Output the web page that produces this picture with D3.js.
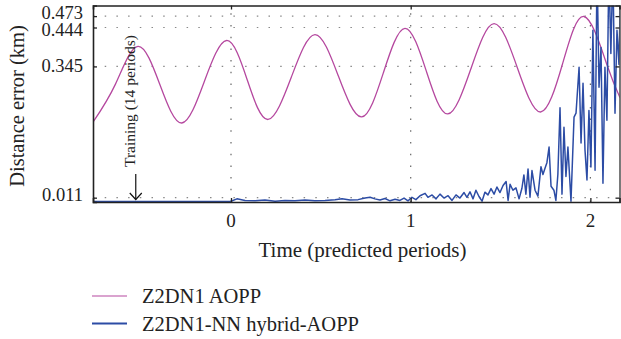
<!DOCTYPE html>
<html>
<head>
<meta charset="utf-8">
<script src="https://cdn.jsdelivr.net/npm/d3@7"></script>
<style>
  body { margin: 0; background: #fff; }
  text { font-family: "Liberation Serif", "DejaVu Serif", serif; fill: #222; }
</style>
</head>
<body>
<svg id="chart" width="621" height="339" viewBox="0 0 621 339"></svg>
<script>
// y ticks (km) and x ticks (predicted periods)
const yTicks = [0.011, 0.345, 0.444, 0.473]
const xTicks = [0, 1, 2]

// Z2DN1 AOPP: [time, error] (troughs, midpoints, peaks)
const aoppSeries = [
  [-0.768, 0.203], [-0.643, 0.300], [-0.518, 0.396], [-0.396, 0.299],
  [-0.274, 0.201], [-0.149, 0.306], [-0.024, 0.411], [0.091, 0.310],
  [0.206, 0.210], [0.336, 0.318], [0.467, 0.426], [0.597, 0.321],
  [0.727, 0.2165], [0.848, 0.329], [0.968, 0.442], [1.087, 0.333],
  [1.206, 0.224], [1.335, 0.339], [1.464, 0.454], [1.594, 0.341],
  [1.723, 0.229], [1.844, 0.350], [1.964, 0.472], [2.090, 0.352],
  [2.165, 0.265]
]

// Z2DN1-NN hybrid-AOPP: [time, error]
const hybridSeries = [
  [-0.768, 0.001], [-0.451, 0.001], [-0.173, 0.001], [0, 0.002],
  [0.033, 0.008], [0.078, 0.004], [0.134, 0.003], [0.189, 0.005],
  [0.245, 0.002], [0.300, 0.004], [0.356, 0.003], [0.412, 0.005],
  [0.467, 0.003], [0.523, 0.004], [0.579, 0.006], [0.618, 0.008],
  [0.662, 0.005], [0.707, 0.006], [0.746, 0.010], [0.774, 0.012],
  [0.801, 0.008], [0.829, 0.005], [0.857, 0.009], [0.885, 0.003],
  [0.913, 0.007], [0.940, 0.004], [0.963, 0.010], [0.985, 0.003],
  [1.007, 0.012], [1.029, 0.006], [1.052, 0.016], [1.080, 0.022],
  [1.096, 0.012], [1.119, 0.018], [1.141, 0.008], [1.163, 0.020],
  [1.185, 0.010], [1.208, 0.016], [1.230, 0.004], [1.252, 0.018],
  [1.274, 0.010], [1.297, 0.024], [1.313, 0.012], [1.330, 0.026],
  [1.347, 0.008], [1.363, 0.030], [1.380, 0.014], [1.397, 0.002],
  [1.413, 0.025], [1.430, 0.018], [1.447, 0.034], [1.464, 0.020],
  [1.480, 0.038], [1.497, 0.024], [1.514, 0.042], [1.531, 0.052],
  [1.542, 0.004], [1.553, 0.045], [1.569, 0.030], [1.586, 0.036],
  [1.603, 0.008], [1.619, 0.035], [1.630, 0.069], [1.641, 0.020],
  [1.653, 0.084], [1.664, 0.012], [1.675, 0.080], [1.692, 0.030],
  [1.708, 0.015], [1.725, 0.090], [1.736, 0.070], [1.747, 0.085],
  [1.758, 0.100], [1.770, 0.140], [1.781, 0.040], [1.797, 0.030],
  [1.808, 0.004], [1.819, 0.070], [1.831, 0.240], [1.842, 0.020],
  [1.853, 0.190], [1.864, 0.065], [1.875, 0.140], [1.892, 0.002],
  [1.909, 0.216], [1.920, 0.226], [1.937, 0.343], [1.948, 0.150],
  [1.959, 0.302], [1.970, 0.132], [1.981, 0.056], [1.992, 0.233],
  [2.003, 0.089], [2.014, 0.437], [2.026, 0.081], [2.037, 0.600],
  [2.048, 0.292], [2.059, 0.393], [2.070, 0.048], [2.081, 0.343],
  [2.092, 0.208], [2.103, 0.600], [2.114, 0.378], [2.125, 0.600],
  [2.137, 0.226], [2.148, 0.437], [2.159, 0.350], [2.170, 0.600]
]

const seriesNames = ["Z2DN1 AOPP", "Z2DN1-NN hybrid-AOPP"]
const seriesColors = ["#b5489f", "#2c4ca5"]

const trainingNote = "Training (14 periods)"
const trainingAt = -0.53

const svg = d3.select("#chart")
const pLeft = 93, pRight = 619.5, pTop = 5.5, pBottom = 202

const x = d3.scaleLinear().domain([-0.768, 2.162]).range([pLeft, pRight])
const y = d3.scaleLinear().domain([0, 0.5]).range([pBottom, pTop])

svg.append("defs").append("clipPath").attr("id", "plotclip")
  .append("rect")
  .attr("x", pLeft).attr("y", pTop)
  .attr("width", pRight - pLeft).attr("height", pBottom - pTop)

// dotted grid
const grid = svg.append("g")
grid.selectAll(".hg").data(yTicks).enter().append("line")
  .attr("x1", pLeft).attr("x2", pRight)
  .attr("y1", d => y(d)).attr("y2", d => y(d))
  .attr("stroke", "#888").attr("stroke-width", 1.2)
  .attr("stroke-dasharray", "1.5,10.2")
grid.selectAll(".vg").data(xTicks).enter().append("line")
  .attr("x1", d => x(d)).attr("x2", d => x(d))
  .attr("y1", pBottom).attr("y2", pTop)
  .attr("stroke", "#666").attr("stroke-width", 1.2)
  .attr("stroke-dasharray", "1.5,10.2")

// lines
const plot = svg.append("g").attr("clip-path", "url(#plotclip)")

plot.append("path").datum(aoppSeries)
  .attr("fill", "none").attr("stroke", seriesColors[0]).attr("stroke-width", 1.3)
  .attr("d", d3.line().x(d => x(d[0])).y(d => y(d[1])).curve(d3.curveNatural))

plot.append("path").datum(hybridSeries)
  .attr("fill", "none").attr("stroke", seriesColors[1]).attr("stroke-width", 1.5)
  .attr("stroke-linejoin", "round")
  .attr("d", d3.line().x(d => x(d[0])).y(d => y(d[1])))

// axes with inward ticks
const fmt = d3.format(".3f")
const axLeft = svg.append("g").attr("transform", `translate(${pLeft},0)`)
  .call(d3.axisLeft(y).tickValues(yTicks).tickSize(-4).tickFormat(""))
const axRight = svg.append("g").attr("transform", `translate(${pRight},0)`)
  .call(d3.axisRight(y).tickValues(yTicks).tickSize(-4).tickFormat(""))
const axBottom = svg.append("g").attr("transform", `translate(0,${pBottom})`)
  .call(d3.axisBottom(x).tickValues(xTicks).tickSize(-4).tickFormat(""))
const axTop = svg.append("g").attr("transform", `translate(0,${pTop})`)
  .call(d3.axisTop(x).tickValues(xTicks).tickSize(-4).tickFormat(""))

for (const a of [axLeft, axRight, axBottom, axTop]) {
  a.select(".domain").attr("stroke", "#222").attr("stroke-width", 1.6)
  a.selectAll(".tick line").attr("stroke", "#222").attr("stroke-width", 1.3)
}
axRight.select(".domain").attr("stroke-width", 1.2)

// tick labels (nudged apart where they crowd, as in the original)
const labelShift = { 0.473: -3.5, 0.444: 2.5, 0.345: 0, 0.011: -3 }
svg.append("g").selectAll("text").data(yTicks).enter().append("text")
  .attr("x", 83).attr("y", d => y(d) + 6 + labelShift[d])
  .attr("text-anchor", "end").attr("font-size", 18.5)
  .text(d => fmt(d))

svg.append("g").selectAll("text").data(xTicks).enter().append("text")
  .attr("x", d => x(d)).attr("y", 226.5)
  .attr("text-anchor", "middle").attr("font-size", 19)
  .text(d => d)

svg.append("text")
  .attr("x", 362.5).attr("y", 257)
  .attr("text-anchor", "middle").attr("font-size", 21)
  .text("Time (predicted periods)")

svg.append("text")
  .attr("transform", "translate(24,106) rotate(-90)")
  .attr("text-anchor", "middle").attr("font-size", 20.5)
  .text("Distance error (km)")

// training annotation
const ax = x(trainingAt)
svg.append("text")
  .attr("transform", `translate(${ax - 0.5},167) rotate(-90)`)
  .attr("font-size", 15.5)
  .text(trainingNote)
svg.append("line")
  .attr("x1", ax).attr("x2", ax).attr("y1", 174).attr("y2", 199.5)
  .attr("stroke", "#111").attr("stroke-width", 1.2)
svg.append("path")
  .attr("d", `M${ax - 6},193 L${ax},199.5 L${ax + 6},193`)
  .attr("fill", "none").attr("stroke", "#111").attr("stroke-width", 1.2)

// legend
const legend = svg.append("g").selectAll("g").data(seriesNames).enter().append("g")
  .attr("transform", (d, i) => `translate(92,${296 + i * 27.5})`)
legend.append("line")
  .attr("x1", 0).attr("x2", 35)
  .attr("stroke", (d, i) => seriesColors[i])
  .attr("stroke-width", (d, i) => i === 0 ? 1.2 : 1.8)
legend.append("text")
  .attr("x", 50).attr("y", 7).attr("font-size", 20.5)
  .text(d => d)
</script>
</body>
</html>
